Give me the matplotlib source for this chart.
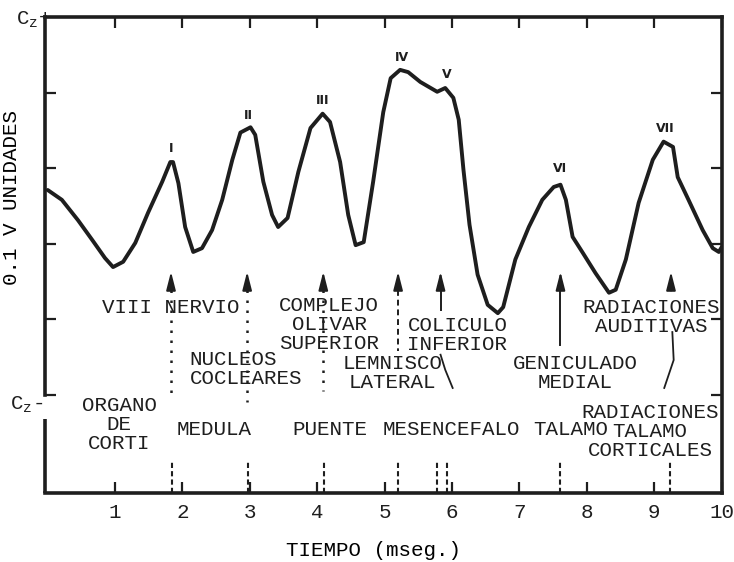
"""
Potenciales evocados auditivos de tronco: ondas I-VII y sus generadores.
"""

import matplotlib
matplotlib.use("Agg")
import matplotlib.pyplot as plt

# ------------------------------------------------------------
# Style
# ------------------------------------------------------------

INK = "#1e1e1e"

plt.rcParams["font.family"] = ["Liberation Mono", "DejaVu Sans Mono"]
plt.rcParams["font.size"] = 15
plt.rcParams["text.color"] = INK
plt.rcParams["axes.edgecolor"] = INK
plt.rcParams["xtick.color"] = INK
plt.rcParams["ytick.color"] = INK
plt.rcParams["mathtext.default"] = "regular"

# ------------------------------------------------------------
# Data
# ------------------------------------------------------------

time_ms = [0.00, 0.21, 0.45, 0.66, 0.85, 0.97, 1.12, 1.30, 1.49, 1.70,
           1.82, 1.86, 1.94, 2.04, 2.16, 2.29, 2.44, 2.59, 2.74, 2.86,
           3.01, 3.08, 3.20, 3.33, 3.42, 3.56, 3.72, 3.90, 4.08, 4.19,
           4.34, 4.46, 4.57, 4.69, 4.83, 4.98, 5.09, 5.23, 5.35, 5.53,
           5.78, 5.90, 6.02, 6.10, 6.17, 6.26, 6.38, 6.53, 6.68, 6.76,
           6.94, 7.14, 7.34, 7.51, 7.61, 7.69, 7.79, 7.94, 8.13, 8.33,
           8.43, 8.58, 8.77, 8.98, 9.14, 9.28, 9.35, 9.51, 9.72, 9.87,
           9.96, 10.00]

amplitude = [2.71, 2.58, 2.31, 2.05, 1.81, 1.69, 1.76, 2.01, 2.41, 2.82,
             3.08, 3.08, 2.80, 2.22, 1.89, 1.94, 2.18, 2.58, 3.11, 3.47,
             3.54, 3.44, 2.82, 2.38, 2.22, 2.34, 2.95, 3.53, 3.72, 3.61,
             3.08, 2.38, 1.98, 2.02, 2.82, 3.74, 4.19, 4.30, 4.27, 4.14,
             4.01, 4.06, 3.93, 3.64, 2.98, 2.25, 1.59, 1.19, 1.08, 1.16,
             1.79, 2.22, 2.58, 2.75, 2.78, 2.58, 2.09, 1.88, 1.61, 1.35,
             1.39, 1.79, 2.54, 3.11, 3.35, 3.28, 2.88, 2.58, 2.18, 1.94,
             1.89, 1.95]

peak_names = ["I", "II", "III", "IV", "V", "VI", "VII"]
peak_time = [1.83, 2.98, 4.08, 5.26, 5.92, 7.61, 9.17]
peak_amp = [3.08, 3.54, 3.72, 4.30, 4.06, 2.78, 3.35]

generator_names = ["VIII NERVIO", "NUCLEOS\nCOCLEARES",
                   "COMPLEJO\nOLIVAR\nSUPERIOR", "LEMNISCO\nLATERAL",
                   "COLICULO\nINFERIOR", "GENICULADO\nMEDIAL",
                   "RADIACIONES\nAUDITIVAS"]

structure_names = ["ORGANO\nDE\nCORTI", "MEDULA", "PUENTE", "MESENCEFALO",
                   "TALAMO", "RADIACIONES\nTALAMO\nCORTICALES"]

arrow_time = [1.83, 2.96, 4.09, 5.20, 5.83, 7.61, 9.25]
boundary_time = [1.85, 2.98, 4.10, 5.20, 5.78, 5.93, 7.60, 9.23]

x_ticks = [1, 2, 3, 4, 5, 6, 7, 8, 9, 10]
y_ticks = [0, 1, 2, 3, 4]

# ------------------------------------------------------------
# Figure
# ------------------------------------------------------------

fig = plt.figure(figsize=(7.34, 5.62), dpi=100, facecolor="white")
ax = fig.add_axes([0.0613, 0.1228, 0.9217, 0.8470])

X0, X1 = -0.04, 10.0
Y0, Y1 = -1.30, 5.0
ax.set_xlim(X0, X1)
ax.set_ylim(Y0, Y1)

ax.plot(time_ms, amplitude, color=INK, lw=2.8,
        solid_joinstyle="round", solid_capstyle="round", zorder=3)

# peak numerals
peak_dy = [0.18, 0.16, 0.18, 0.17, 0.18, 0.21, 0.17]
for name, t, a, dy in zip(peak_names, peak_time, peak_amp, peak_dy):
    ax.text(t, a + dy, name, family="DejaVu Sans", weight="bold",
            fontsize=9, ha="center", va="center")

# ------------------------------------------------------------
# Frame
# ------------------------------------------------------------

for side in ["left", "right", "top", "bottom"]:
    ax.spines[side].set_linewidth(2.6)

ax.spines["left"].set_bounds(0, Y1)
ax.plot([X0, X0], [-0.32, Y0], color=INK, lw=2.6,
        solid_capstyle="butt", clip_on=False)

ax.set_xticks(x_ticks)
ax.set_xticklabels([str(t) for t in x_ticks])
ax.set_yticks(y_ticks)
ax.set_yticklabels([])
ax.tick_params(axis="both", direction="in", length=8, width=1.6,
               top=True, right=True, pad=7)
ax.tick_params(axis="x", labelsize=15)

ax.set_xlabel("TIEMPO (mseg.)", fontsize=15)
ax.xaxis.set_label_coords(0.485, -0.12)
ax.xaxis.label.set_va("center")

ax.set_ylabel("0.1 V UNIDADES", fontsize=15)
ax.yaxis.set_label_coords(-0.049, 0.62)
ax.yaxis.label.set_va("center")

ax.text(0.05, 4.96, "C$_z$+", ha="right", va="center", clip_on=False)
ax.text(-0.07, -0.13, "C$_z$-", ha="right", va="center", clip_on=False)

# ------------------------------------------------------------
# Arrows and guide lines
# ------------------------------------------------------------

for t in arrow_time:
    ax.annotate("", xy=(t, 1.63), xytext=(t, 1.38),
                arrowprops=dict(arrowstyle="-|>,head_length=1.1,head_width=0.28",
                                color=INK, lw=1.4, shrinkA=0, shrinkB=0,
                                mutation_scale=10))

dotted = (0, (1, 3))
ax.plot([1.83, 1.83], [1.38, 0.02], color=INK, lw=1.8, ls=dotted)
ax.plot([2.96, 2.96], [1.38, -0.10], color=INK, lw=1.8, ls=dotted)
ax.plot([4.09, 4.09], [1.38, 0.05], color=INK, lw=1.8, ls=dotted)
ax.plot([5.20, 5.20], [1.38, 0.58], color=INK, lw=1.4, ls=(0, (3, 2)))
ax.plot([5.83, 5.83], [1.40, 1.12], color=INK, lw=1.4)
ax.plot([7.61, 7.61], [1.40, 0.66], color=INK, lw=1.4)
ax.plot([5.83, 5.90, 6.01], [0.53, 0.33, 0.09], color=INK, lw=1.3)
ax.plot([9.27, 9.29, 9.15], [0.83, 0.46, 0.09], color=INK, lw=1.3)

ax.vlines(boundary_time, Y0, -0.89, colors=INK, lw=1.5,
          linestyles=[(0, (2.5, 1.5))])

# ------------------------------------------------------------
# Labels
# ------------------------------------------------------------

gen_x = [1.83, 2.11, 4.18, 5.12, 6.08, 7.83, 8.96]
gen_y = [1.15, 0.34, 0.93, 0.29, 0.79, 0.29, 1.03]
gen_ha = ["center", "left", "center", "center", "center", "center", "center"]
for name, x, y, ha in zip(generator_names, gen_x, gen_y, gen_ha):
    ax.text(x, y, name, ha=ha, va="center", multialignment=ha,
            linespacing=1.0, zorder=4)

struct_x = [1.06, 2.47, 4.19, 5.99, 7.76, 8.94]
struct_y = [-0.40, -0.46, -0.46, -0.46, -0.46, -0.49]
for name, x, y in zip(structure_names, struct_x, struct_y):
    ax.text(x, y, name, ha="center", va="center", multialignment="center",
            linespacing=1.0, zorder=4)

fig.savefig("out.png", dpi=100, facecolor="white")
